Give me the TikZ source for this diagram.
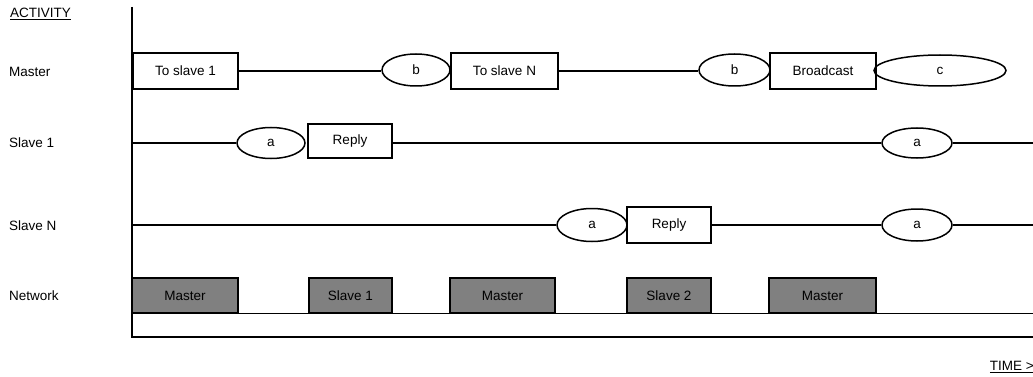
\documentclass[tikz,border=0pt]{standalone}
\usepackage{fontspec}
\setmainfont{Liberation Sans}
\usetikzlibrary{shapes.geometric}
\begin{document}
\begin{tikzpicture}[x=1pt,y=-1pt,
  every node/.style={font=\fontsize{13.5}{15}\selectfont, inner sep=0pt},
  actbox/.style={draw, line width=1.5pt, rectangle},
  netbox/.style={draw, line width=1.5pt, rectangle, fill={rgb,255:red,128;green,128;blue,128}},
  evt/.style={draw, line width=1.5pt, ellipse},
  tl/.style={line width=1.5pt},
  lbl/.style={anchor=west}]
\useasboundingbox (0,0) rectangle (1033,377);
% axes
\coordinate (axtop) at (132,7);
\coordinate (axorig) at (132,337);
\coordinate (axend) at (1033,337);
\draw[line width=1.5pt] (axtop) -- (axorig) -- (axend);
% labels
\node[lbl] (activity) at (10,14) {\underline{ACTIVITY}};
\node[lbl] (lmaster) at (9,72) {Master};
\node[lbl] (lslave1) at (9,143) {Slave 1};
\node[lbl] (lslaveN) at (9,226) {Slave N};
\node[lbl] (lnet) at (9,296) {Network};
\node[anchor=east] (time) at (1034,367) {\underline{TIME >}};
% network line
\coordinate (netl) at (132,313);
\coordinate (netr) at (1033,313);
\draw[line width=1pt] (netl) -- (netr);
% master row
\node[actbox, minimum width=105pt, minimum height=36pt] (ts1) at (185.5,71) {To slave 1};
\node[evt, minimum width=68pt, minimum height=32pt] (b1) at (416,70) {b};
\node[actbox, minimum width=107pt, minimum height=36pt] (tsN) at (504.5,71) {To slave N};
\node[evt, minimum width=71pt, minimum height=32pt] (b2) at (734.5,70) {b};
\node[actbox, minimum width=106pt, minimum height=36pt] (bc) at (823,71) {Broadcast};
\node[evt, minimum width=132pt, minimum height=31pt] (c) at (940,70.5) {c};
\draw[tl] (ts1.east) -- (ts1.east -| b1.west);
\draw[tl] (tsN.east) -- (tsN.east -| b2.west);
% slave 1 row
\coordinate (s1l) at (132,143);
\coordinate (s1r) at (1033,143);
\node[evt, minimum width=68pt, minimum height=31pt] (a1) at (271,143) {a};
\node[actbox, minimum width=84pt, minimum height=34pt] (r1) at (350,141) {Reply};
\node[evt, minimum width=70pt, minimum height=30pt] (a2) at (917,143) {a};
\draw[tl] (s1l) -- (a1.west);
\draw[tl] (r1.east |- a2.west) -- (a2.west);
\draw[tl] (a2.east) -- (s1r);
% slave N row
\coordinate (sNl) at (132,225);
\coordinate (sNr) at (1033,225);
\node[evt, minimum width=70pt, minimum height=33pt] (a3) at (592,225) {a};
\node[actbox, minimum width=84pt, minimum height=36pt] (r2) at (669,225) {Reply};
\node[evt, minimum width=70pt, minimum height=32pt] (a4) at (917,225) {a};
\draw[tl] (sNl) -- (a3.west);
\draw[tl] (r2.east) -- (a4.west);
\draw[tl] (a4.east) -- (sNr);
% network boxes
\node[netbox, minimum width=106pt, minimum height=35pt] (n1) at (185,295.5) {Master};
\node[netbox, minimum width=83pt, minimum height=35pt] (n2) at (350.5,295.5) {Slave 1};
\node[netbox, minimum width=105pt, minimum height=35pt] (n3) at (502.5,295.5) {Master};
\node[netbox, minimum width=84pt, minimum height=35pt] (n4) at (669,295.5) {Slave 2};
\node[netbox, minimum width=107pt, minimum height=35pt] (n5) at (822.5,295.5) {Master};
\end{tikzpicture}
\end{document}
